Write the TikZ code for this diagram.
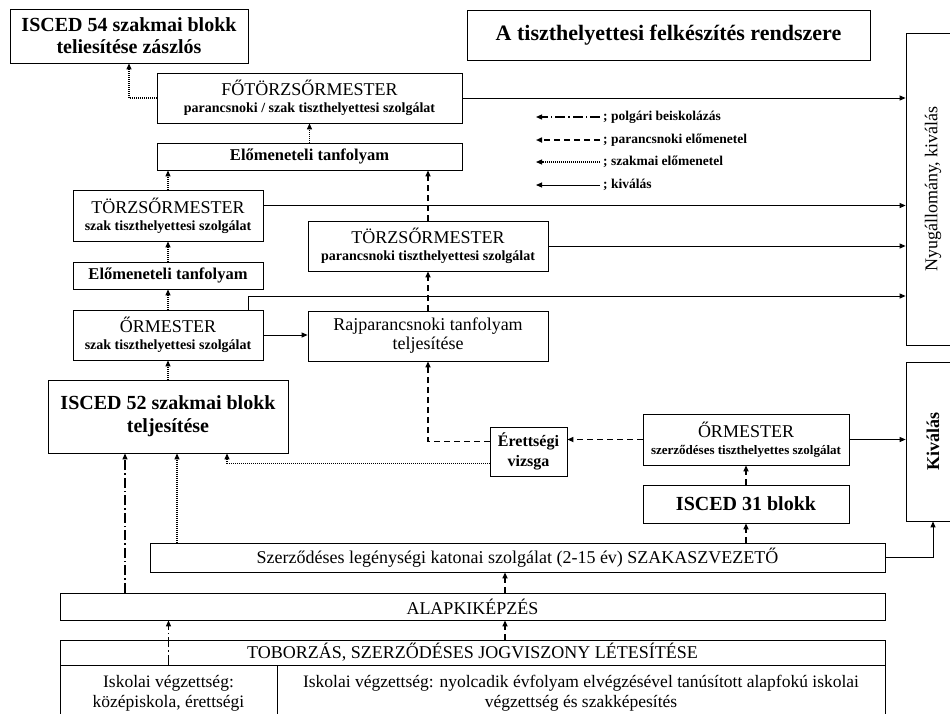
\documentclass[tikz,border=0pt]{standalone}
\usepackage{fontspec}
\setmainfont{Liberation Serif}
\usetikzlibrary{arrows.meta}

\newcommand{\rangfont}{\mdseries\fontsize{18}{18}\selectfont}

\begin{document}
\begin{tikzpicture}[
  x=1pt, y=-1pt,
  blk/.style={draw, line width=0.8pt, inner sep=0pt, align=center},
  rang/.style={blk, font=\bfseries\fontsize{14}{17}\selectfont},
  tanf/.style={blk, font=\bfseries\fontsize{16.5}{17}\selectfont},
  isced/.style={blk, font=\bfseries\fontsize{20}{22}\selectfont},
  sima/.style={blk, font=\fontsize{18}{19}\selectfont},
  isk/.style={blk, font=\fontsize{17.5}{20}\selectfont},
  oldal/.style={blk, rotate=90, font=\fontsize{18}{20}\selectfont},
  jel/.style={anchor=west, inner sep=0pt, font=\bfseries\fontsize{13.5}{15}\selectfont},
  tip/.style={-{Triangle[length=6pt,width=5pt]}},
  kivalas/.style={tip, line width=1pt},
  parancs/.style={tip, line width=1.5pt, dash pattern=on 6pt off 4pt},
  szakmai/.style={tip, line width=1.1pt, dash pattern=on 1pt off 1pt},
  polgari/.style={tip, line width=1.2pt, dash pattern=on 10pt off 3pt on 1.5pt off 3pt},
]
  \clip (0,0) rectangle (950,713);

  % felso resz
  \node[isced, minimum width=238, minimum height=54] (isc54) at (129,36) {ISCED 54 szakmai blokk\\teliesítése zászlós};
  \node[blk, font=\bfseries\fontsize{22}{24}\selectfont, minimum width=403, minimum height=50] (cim) at (668.5,35) {A tiszthelyettesi felkészítés rendszere};
  \node[rang, minimum width=305, minimum height=50] (fotorzs) at (309.5,98) {{\rangfont FŐTÖRZSŐRMESTER}\\parancsnoki / szak tiszthelyettesi szolgálat};
  \node[tanf, minimum width=305, minimum height=27] (elom1) at (309.5,156.5) {Előmeneteli tanfolyam};

  % szakmai ag
  \node[rang, minimum width=190, minimum height=51] (torzsA) at (168,215.5) {{\rangfont TÖRZSŐRMESTER}\\szak tiszthelyettesi szolgálat};
  \node[tanf, minimum width=190, minimum height=27] (elom2) at (168,275.5) {Előmeneteli tanfolyam};
  \node[rang, minimum width=190, minimum height=50] (ormA) at (168,335) {{\rangfont ŐRMESTER}\\szak tiszthelyettesi szolgálat};
  \node[isced, minimum width=240, minimum height=73, font=\bfseries\fontsize{20}{23}\selectfont] (isc52) at (168,416.5) {ISCED 52 szakmai blokk\\teljesítése};

  % parancsnoki ag
  \node[rang, minimum width=240, minimum height=50] (torzsB) at (428,246) {{\rangfont TÖRZSŐRMESTER}\\parancsnoki tiszthelyettesi szolgálat};
  \node[sima, minimum width=240, minimum height=50] (rajpar) at (428,336) {Rajparancsnoki tanfolyam\\teljesítése};
  \node[blk, font=\bfseries\fontsize{16}{20}\selectfont, minimum width=77, minimum height=49] (eretts) at (528.5,451.5) {Érettségi\\vizsga};
  \node[rang, font=\bfseries\fontsize{13}{17}\selectfont, minimum width=206, minimum height=51] (ormB) at (746,439.5) {{\rangfont ŐRMESTER}\\szerződéses tiszthelyettes szolgálat};
  \node[isced, minimum width=206, minimum height=38] (isc31) at (746,504) {ISCED 31 blokk};

  % jobb oldal (elforgatva: north = bal oldal, west = alja)
  \node[oldal, minimum width=312, minimum height=54] (nyug) at (933,189) {Nyugállomány, kiválás};
  \node[oldal, font=\bfseries\fontsize{18}{20}\selectfont, minimum width=159, minimum height=54] (kivbox) at (933,441.5) {Kiválás};

  % also resz
  \node[sima, minimum width=735, minimum height=29] (szerz) at (517.5,557.5) {Szerződéses legénységi katonai szolgálat (2-15 év) SZAKASZVEZETŐ};
  \node[sima, minimum width=825, minimum height=27] (alap) at (472.5,606.5) {ALAPKIKÉPZÉS};
  \node[sima, minimum width=825, minimum height=25] (tob) at (472.5,652.5) {TOBORZÁS, SZERZŐDÉSES JOGVISZONY LÉTESÍTÉSE};
  \node[isk, minimum width=217, minimum height=56] (isk1) at (168.5,693) {Iskolai végzettség:\\középiskola, érettségi};
  \node[isk, minimum width=608, minimum height=56] (isk2) at (581,693) {Iskolai végzettség: nyolcadik évfolyam elvégzésével tanúsított alapfokú iskolai\\végzettség és szakképesítés};

  % jelmagyarazat
  \node[jel] (lg1) at (603,117) {; polgári beiskolázás};
  \node[jel] (lg2) at (603,140) {; parancsnoki előmenetel};
  \node[jel] (lg3) at (603,162) {; szakmai előmenetel};
  \node[jel] (lg4) at (603,185) {; kiválás};
  \draw[polgari] ([xshift=-3pt]lg1.west) -- ++(-64,0);
  \draw[parancs] ([xshift=-3pt]lg2.west) -- ++(-64,0);
  \draw[szakmai] ([xshift=-3pt]lg3.west) -- ++(-64,0);
  \draw[kivalas] ([xshift=-3pt]lg4.west) -- ++(-64,0);

  % kivalas
  \draw[kivalas] (fotorzs.east) -- (fotorzs.east -| nyug.north);
  \draw[kivalas] ([yshift=10pt]torzsA.east) -- ([yshift=10pt]torzsA.east -| nyug.north);
  \draw[kivalas] (torzsB.east) -- (torzsB.east -| nyug.north);
  \coordinate (kiv3) at (248,296);
  \draw[kivalas] (kiv3 |- ormA.north) -- (kiv3) -- (kiv3 -| nyug.north);
  \draw[kivalas] (ormA.east) -- (ormA.east -| rajpar.west);
  \draw[kivalas] (ormB.east) -- (ormB.east -| kivbox.north);
  \draw[kivalas] (szerz.east) -| (kivbox.west);

  % szakmai elomenetel
  \draw[szakmai] (fotorzs.west) -| (isc54.south);
  \draw[szakmai] (elom1) -- (fotorzs);
  \draw[szakmai] (torzsA.north) -- (torzsA.north |- elom1.south);
  \draw[szakmai] (elom2) -- (torzsA);
  \draw[szakmai] (ormA) -- (elom2);
  \draw[szakmai] (isc52) -- (ormA);
  \coordinate (sz52) at ([xshift=9pt]isc52.south);
  \draw[szakmai] (sz52 |- szerz.north) -- (sz52);
  \draw[szakmai] ([yshift=-12pt]eretts.west) -| ([xshift=59pt]isc52.south);

  % parancsnoki elomenetel
  \draw[parancs] (torzsB.north) -- (torzsB.north |- elom1.south);
  \draw[parancs] (rajpar) -- (torzsB);
  \draw[parancs] ([yshift=10pt]eretts.west) -| (rajpar.south);
  \draw[parancs] (ormB.west) -- (ormB.west -| eretts.east);
  \draw[parancs] (isc31) -- (ormB);
  \draw[parancs] (szerz.north -| isc31) -- (isc31.south);
  \coordinate (pk) at (505,0);
  \draw[parancs] (pk |- alap.north) -- (pk |- szerz.south);
  \draw[parancs] (pk |- tob.north) -- (pk |- alap.south);

  % polgari beiskolazas
  \coordinate (pb) at ([xshift=-43pt]isc52.south);
  \draw[polgari] (pb |- alap.north) -- (pb);
  \draw[polgari] (isk1.north) -- (isk1.north |- alap.south);
\end{tikzpicture}
\end{document}
